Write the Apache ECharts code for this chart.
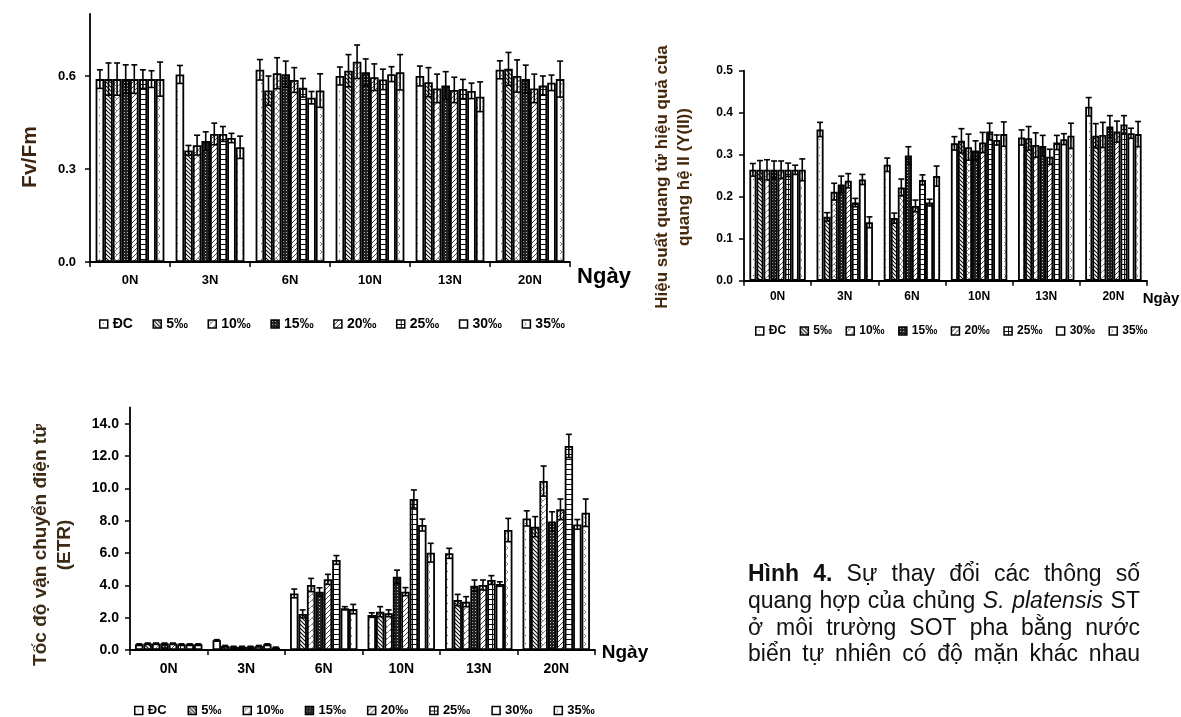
<!DOCTYPE html>
<html lang="vi">
<head>
<meta charset="UTF-8">
<script src="https://cdn.jsdelivr.net/npm/echarts@6.0.0/dist/echarts.min.js"></script>
<style>
  html, body { margin: 0; padding: 0; background: #fff; }
  #fig { width: 1181px; height: 717px; }
</style>
</head>
<body>
<div id="fig"></div>
<script type="text/javascript">

// ---- data ----
var days = ['0N', '3N', '6N', '10N', '13N', '20N'];
var groups = ['ĐC', '5‰', '10‰', '15‰', '20‰', '25‰', '30‰', '35‰'];

// Fv/Fm, one row per salinity group, one value per day
var fvfmMean = [
  [0.59, 0.605, 0.62, 0.60, 0.60, 0.62],
  [0.59, 0.36, 0.553, 0.617, 0.58, 0.623],
  [0.59, 0.377, 0.609, 0.646, 0.56, 0.60],
  [0.59, 0.39, 0.606, 0.612, 0.569, 0.59],
  [0.59, 0.413, 0.587, 0.596, 0.555, 0.56],
  [0.59, 0.413, 0.562, 0.589, 0.558, 0.569],
  [0.59, 0.40, 0.53, 0.606, 0.552, 0.578],
  [0.59, 0.37, 0.553, 0.612, 0.533, 0.59]
];
var fvfmErr = [
  [0.030, 0.029, 0.033, 0.029, 0.032, 0.029],
  [0.052, 0.016, 0.047, 0.052, 0.047, 0.053],
  [0.052, 0.032, 0.050, 0.054, 0.046, 0.052],
  [0.046, 0.030, 0.042, 0.043, 0.045, 0.045],
  [0.046, 0.035, 0.040, 0.043, 0.041, 0.046],
  [0.030, 0.024, 0.030, 0.033, 0.031, 0.031],
  [0.027, 0.015, 0.020, 0.024, 0.025, 0.025],
  [0.055, 0.036, 0.054, 0.057, 0.048, 0.058]
];

// Y(II)
var yiiMean = [
  [0.264, 0.36, 0.276, 0.327, 0.341, 0.414],
  [0.264, 0.152, 0.149, 0.333, 0.339, 0.345],
  [0.264, 0.212, 0.222, 0.318, 0.323, 0.347],
  [0.264, 0.229, 0.298, 0.31, 0.321, 0.367],
  [0.264, 0.238, 0.178, 0.329, 0.295, 0.355],
  [0.264, 0.186, 0.24, 0.355, 0.329, 0.372],
  [0.264, 0.241, 0.186, 0.335, 0.337, 0.351],
  [0.264, 0.139, 0.249, 0.349, 0.345, 0.349]
];
var yiiErr = [
  [0.015, 0.017, 0.016, 0.016, 0.018, 0.022],
  [0.022, 0.010, 0.012, 0.029, 0.028, 0.029],
  [0.024, 0.020, 0.020, 0.031, 0.029, 0.030],
  [0.021, 0.020, 0.021, 0.023, 0.025, 0.026],
  [0.021, 0.017, 0.014, 0.024, 0.018, 0.025],
  [0.016, 0.010, 0.012, 0.020, 0.017, 0.021],
  [0.011, 0.012, 0.008, 0.012, 0.013, 0.012],
  [0.026, 0.013, 0.024, 0.029, 0.030, 0.030]
];

// ETR
var etrMean = [
  [0.35, 0.6, 3.5, 2.16, 5.98, 8.14],
  [0.4, 0.25, 2.23, 2.37, 3.09, 7.63],
  [0.4, 0.2, 4.02, 2.27, 2.99, 10.45],
  [0.4, 0.2, 3.6, 4.53, 3.98, 7.95],
  [0.4, 0.2, 4.37, 3.61, 4.02, 8.7],
  [0.35, 0.25, 5.57, 9.34, 4.33, 12.62],
  [0.35, 0.35, 2.58, 7.73, 4.08, 7.77],
  [0.35, 0.15, 2.53, 6.02, 7.42, 8.49]
];
var etrErr = [
  [0.03, 0.04, 0.27, 0.14, 0.31, 0.47],
  [0.03, 0.03, 0.25, 0.31, 0.35, 0.62],
  [0.03, 0.03, 0.41, 0.21, 0.31, 0.93],
  [0.03, 0.03, 0.25, 0.41, 0.35, 0.60],
  [0.03, 0.03, 0.31, 0.25, 0.31, 0.64],
  [0.03, 0.03, 0.27, 0.56, 0.27, 0.72],
  [0.03, 0.03, 0.10, 0.37, 0.14, 0.30],
  [0.03, 0.03, 0.29, 0.58, 0.72, 0.85]
];

// ---- fill patterns (black & white hatching like the print) ----
function makePattern(w, h, draw) {
  var c = document.createElement('canvas');
  c.width = w; c.height = h;
  var ctx = c.getContext('2d');
  ctx.fillStyle = '#fff';
  ctx.fillRect(0, 0, w, h);
  draw(ctx);
  return { image: c, repeat: 'repeat' };
}
function seg(ctx, x1, y1, x2, y2) {
  ctx.beginPath(); ctx.moveTo(x1, y1); ctx.lineTo(x2, y2); ctx.stroke();
}
var patterns = [
  makePattern(6, 8, function (ctx) { ctx.fillStyle = '#555'; ctx.fillRect(3, 3, 1, 1); }),
  makePattern(4, 4, function (ctx) {
    ctx.strokeStyle = '#111'; ctx.lineWidth = 1.2;
    seg(ctx, 0, 0, 4, 4); seg(ctx, -1, 3, 1, 5); seg(ctx, 3, -1, 5, 1);
  }),
  makePattern(6, 6, function (ctx) {
    ctx.strokeStyle = '#666'; ctx.lineWidth = 0.8;
    seg(ctx, 0, 6, 6, 0); seg(ctx, 0, 0, 3, 3);
  }),
  makePattern(3, 3, function (ctx) {
    ctx.fillStyle = '#222'; ctx.fillRect(0, 0, 3, 3);
    ctx.fillStyle = '#bbb'; ctx.fillRect(1, 1, 1, 1);
  }),
  makePattern(5, 5, function (ctx) {
    ctx.strokeStyle = '#444'; ctx.lineWidth = 1;
    seg(ctx, 0, 5, 5, 0); seg(ctx, -1, 1, 1, -1); seg(ctx, 4, 6, 6, 4);
  }),
  makePattern(8, 5, function (ctx) {
    ctx.strokeStyle = '#111'; ctx.lineWidth = 1;
    seg(ctx, 0, 4.5, 8, 4.5); seg(ctx, 4.5, 0, 4.5, 5);
  }),
  makePattern(4, 4, function () {}),
  makePattern(6, 8, function (ctx) {
    ctx.strokeStyle = '#777'; ctx.lineWidth = 0.8;
    ctx.beginPath(); ctx.moveTo(2, 2); ctx.lineTo(4, 4); ctx.lineTo(2, 6); ctx.stroke();
  })
];

var FONT = '"Liberation Sans", Arial, sans-serif';

var panels = [
  { mean: fvfmMean, err: fvfmErr, gap: 0.14,
    grid: { left: 90, top: 14, width: 480, height: 248 },
    y: { max: 0.8, interval: 0.3, size: 13, margin: 14, showMax: false }, xSize: 13, xMargin: 12,
    legend: { left: 99, top: 317, size: 14, gap: 19.5 } },
  { mean: yiiMean, err: yiiErr, gap: 0.16,
    grid: { left: 744, top: 70.7, width: 403, height: 210 },
    y: { max: 0.5, interval: 0.1, size: 12, margin: 11, showMax: true }, xSize: 12, xMargin: 10,
    legend: { left: 755, top: 325, size: 12, gap: 13.5 } },
  { mean: etrMean, err: etrErr, gap: 0.13,
    grid: { left: 130, top: 407.5, width: 465, height: 242.5 },
    y: { max: 15, interval: 2, size: 14, margin: 11, showMax: false }, xSize: 14, xMargin: 12,
    legend: { left: 134, top: 704, size: 13, gap: 21 } }
];

function errorBars(p, k) {
  var items = [];
  for (var i = 0; i < groups.length; i++) {
    for (var j = 0; j < days.length; j++) {
      items.push([j, i, p.mean[i][j], p.err[i][j]]);
    }
  }
  return {
    type: 'custom',
    xAxisIndex: k, yAxisIndex: k,
    z: 5, silent: true, clip: false,
    encode: { x: 0, y: 2 },
    data: items,
    renderItem: function (params, api) {
      var cat = api.value(0), idx = api.value(1), v = api.value(2), e = api.value(3);
      var band = api.size([1, 0])[0];
      var groupW = band * (1 - p.gap);
      var bw = groupW / groups.length;
      var cx = api.coord([cat, 0])[0] - groupW / 2 + (idx + 0.5) * bw;
      var yT = api.coord([cat, v + e])[1];
      var yB = api.coord([cat, v - e])[1];
      var st = { stroke: '#000', lineWidth: 1.6 };
      return {
        type: 'group',
        children: [
          { type: 'line', shape: { x1: cx, y1: yT, x2: cx, y2: yB }, style: st },
          { type: 'line', shape: { x1: cx - 3, y1: yT, x2: cx + 3, y2: yT }, style: st },
          { type: 'line', shape: { x1: cx - 3, y1: yB, x2: cx + 3, y2: yB }, style: st }
        ]
      };
    }
  };
}

var grids = [], xAxes = [], yAxes = [], series = [], legends = [];
panels.forEach(function (p, k) {
  grids.push(p.grid);
  xAxes.push({
    type: 'category', gridIndex: k, data: days,
    axisLine: { lineStyle: { color: '#000', width: 1.8 } },
    axisTick: { show: true, length: 5, lineStyle: { color: '#000', width: 1.5 } },
    axisLabel: { color: '#000', fontWeight: 'bold', fontSize: p.xSize, fontFamily: FONT, margin: p.xMargin },
    splitLine: { show: false }
  });
  yAxes.push({
    type: 'value', gridIndex: k, min: 0, max: p.y.max, interval: p.y.interval,
    axisLine: { show: true, lineStyle: { color: '#000', width: 1.8 } },
    axisTick: { show: true, length: 5, lineStyle: { color: '#000', width: 1.5 } },
    axisLabel: {
      color: '#000', fontWeight: 'bold', fontSize: p.y.size, fontFamily: FONT, margin: p.y.margin,
      showMaxLabel: p.y.showMax,
      formatter: function (v) { return v.toFixed(1); }
    },
    splitLine: { show: false }
  });
  groups.forEach(function (g, i) {
    series.push({
      type: 'bar', name: g, xAxisIndex: k, yAxisIndex: k,
      data: p.mean[i],
      barGap: '0%', barCategoryGap: (p.gap * 100) + '%',
      itemStyle: { color: patterns[i], borderColor: '#000', borderWidth: 1.8 },
      emphasis: { disabled: true }
    });
  });
  series.push(errorBars(p, k));
  legends.push({
    left: p.legend.left, top: p.legend.top, padding: 0,
    orient: 'horizontal', selectedMode: false,
    icon: 'rect', itemWidth: 8, itemHeight: 8, itemGap: p.legend.gap,
    data: groups,
    itemStyle: { borderColor: '#000', borderWidth: 1.5 },
    textStyle: { color: '#000', fontWeight: 'bold', fontSize: p.legend.size, fontFamily: FONT }
  });
});

function label(x, y, text, size, opts) {
  opts = opts || {};
  return {
    type: 'text', x: x, y: y, rotation: opts.rot || 0, silent: true,
    style: {
      text: text, fill: opts.color || '#000',
      font: 'bold ' + size + 'px ' + FONT,
      lineHeight: opts.lh || size * 1.2,
      align: 'center', verticalAlign: 'middle',
      textAlign: 'center', textVerticalAlign: 'middle'
    }
  };
}

// caption, justified between capLeft and capRight
var captionLines = [
  [['Hình 4.', 'bold '], ['Sự thay đổi các thông số', '']],
  [['quang hợp của chủng', ''], ['S. platensis', 'italic '], ['ST', '']],
  [['ở môi trường SOT pha bằng nước', '']],
  [['biển tự nhiên có độ mặn khác nhau', '']]
];
var capLeft = 748, capRight = 1140, capTop = 575, capStep = 26.7, capSize = 23;

function captionElements() {
  var ctx = document.createElement('canvas').getContext('2d');
  var els = [];
  captionLines.forEach(function (line, li) {
    var words = [];
    line.forEach(function (s) {
      s[0].split(' ').forEach(function (w) {
        words.push({ t: w, f: s[1] + capSize + 'px ' + FONT });
      });
    });
    var total = 0;
    words.forEach(function (w) { ctx.font = w.f; w.w = ctx.measureText(w.t).width; total += w.w; });
    var space = (capRight - capLeft - total) / (words.length - 1);
    var x = capLeft;
    words.forEach(function (w) {
      els.push({
        type: 'text', x: x, y: capTop + li * capStep, silent: true,
        style: { text: w.t, font: w.f, fill: '#111', align: 'left', verticalAlign: 'middle', textAlign: 'left', textVerticalAlign: 'middle' }
      });
      x += w.w + space;
    });
  });
  return els;
}

var chart = echarts.init(document.getElementById('fig'));
chart.setOption({
  animation: false,
  backgroundColor: '#fff',
  grid: grids,
  xAxis: xAxes,
  yAxis: yAxes,
  legend: legends,
  series: series,
  graphic: [
    label(30, 157, 'Fv/Fm', 21, { rot: Math.PI / 2, color: '#3b2411' }),
    label(604, 277, 'Ngày', 22),
    label(673, 177, 'Hiệu suất quang tử hiệu quả của\nquang hệ II (Y(II))', 17, { rot: Math.PI / 2, color: '#45290c', lh: 22 }),
    label(1161, 299, 'Ngày', 15),
    label(53, 545, 'Tốc độ vận chuyển điện tử\n(ETR)', 19, { rot: Math.PI / 2, color: '#3b2a14', lh: 24 }),
    label(625, 653, 'Ngày', 19)
  ].concat(captionElements())
});
</script>
</body>
</html>
